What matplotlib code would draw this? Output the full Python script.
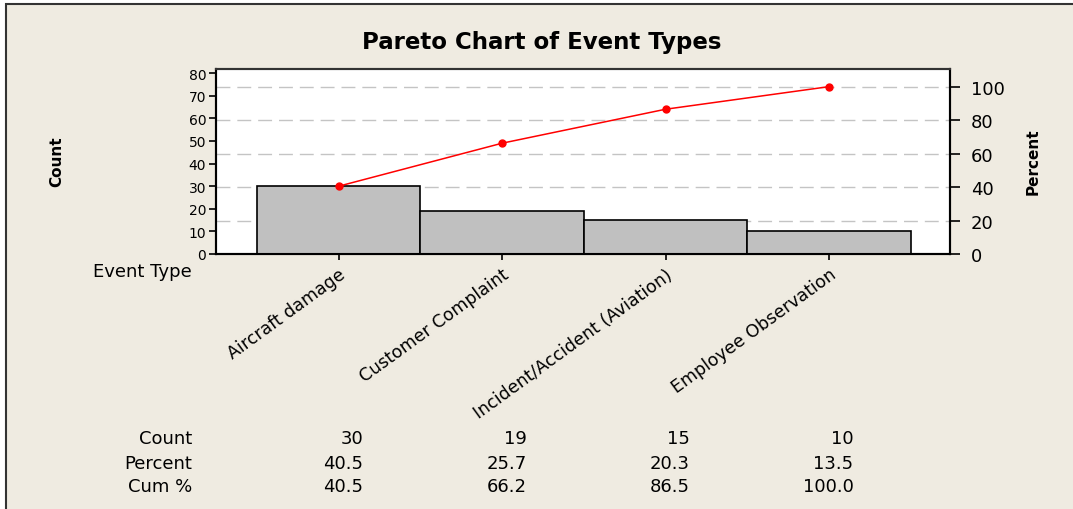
import numpy as np
import matplotlib
matplotlib.use("Agg")
import matplotlib.pyplot as plt
import matplotlib.transforms as mtransforms
from matplotlib.patches import Rectangle

# data
event_types = ["Aircraft damage", "Customer Complaint",
               "Incident/Accident (Aviation)", "Employee Observation"]
counts = [30, 19, 15, 10]
percents = [40.5, 25.7, 20.3, 13.5]
cum_percents = [40.5, 66.2, 86.5, 100.0]
count_ticks = [0, 10, 20, 30, 40, 50, 60, 70, 80]
percent_ticks = [0, 20, 40, 60, 80, 100]

W, H = 1073, 510
BG = "#EFEBE1"

fig = plt.figure(figsize=(W / 100, H / 100), dpi=100)
fig.patch.set_facecolor("white")
# beige panel with dark border on left/top (rest runs off the crop)
fig.patches.append(Rectangle((6 / W, -0.05), 1.1, 1 - 5 / H + 0.05,
                             transform=fig.transFigure, facecolor=BG,
                             edgecolor="#333333", lw=1.5, zorder=-10))

ax = fig.add_axes([216 / W, 1 - 255 / H, (950 - 216) / W, (255 - 70) / H])
ax2 = ax.twinx()
ax.set_zorder(ax2.get_zorder() + 1)
ax.patch.set_visible(False)
ax2.patch.set_visible(True)
ax2.patch.set_facecolor("white")

x = np.arange(len(counts))
total = sum(counts)
ymax = 81.8

ax.bar(x, counts, width=1.0, color="#C0C0C0", edgecolor="black", lw=1.2, zorder=2)
ax.plot(x, np.array(cum_percents) / 100 * total, color="red", lw=1.1,
        marker="o", ms=5, zorder=3)

ax.set_xlim(-0.75, 3.74)
ax.set_ylim(0, ymax)
ax2.set_ylim(0, ymax / total * 100)
ax.set_yticks(count_ticks)
ax2.set_yticks(percent_ticks)
ax2.grid(axis="y", color="#C4C4C4", ls=(0, (10, 5)), lw=1.0)

ax.tick_params(axis="y", labelsize=10, length=5, width=1.2, pad=2)
ax2.tick_params(axis="y", labelsize=13, length=7, width=1.2, pad=8)
ax.set_xticks(x)
ax.set_xticklabels(event_types, rotation=36, ha="right", va="top",
                   rotation_mode="anchor", fontsize=12.5)
ax.tick_params(axis="x", length=4, width=1.2, pad=4)

for a in (ax, ax2):
    for s in a.spines.values():
        s.set_linewidth(1.5)
        s.set_color("black")
    a.spines["top"].set_color("#333333")

fig.text(542 / W, 1 - 42 / H, "Pareto Chart of Event Types", ha="center",
         va="center", fontsize=16.5, fontweight="bold")
fig.text(57 / W, 1 - 162 / H, "Count", rotation=90, ha="center", va="center",
         fontsize=11, fontweight="bold")
fig.text(1033 / W, 1 - 162 / H, "Percent", rotation=90, ha="center",
         va="center", fontsize=11, fontweight="bold")

# summary table under the chart
fig.text(192 / W, 1 - 272 / H, "Event Type", ha="right", va="center", fontsize=13)
row_names = ["Count", "Percent", "Cum %"]
row_vals = [[str(c) for c in counts],
            ["%.1f" % p for p in percents],
            ["%.1f" % p for p in cum_percents]]
row_y = [439, 464, 487]
trans = mtransforms.blended_transform_factory(ax.transData, fig.transFigure)
for name, vals, yy in zip(row_names, row_vals, row_y):
    fig.text(192 / W, 1 - yy / H, name, ha="right", va="center", fontsize=13)
    for i, v in enumerate(vals):
        ax.text(i + 0.15, 1 - yy / H, v, transform=trans, ha="right",
                va="center", fontsize=13, clip_on=False)

fig.savefig("out.png", dpi=100, facecolor=fig.get_facecolor())
